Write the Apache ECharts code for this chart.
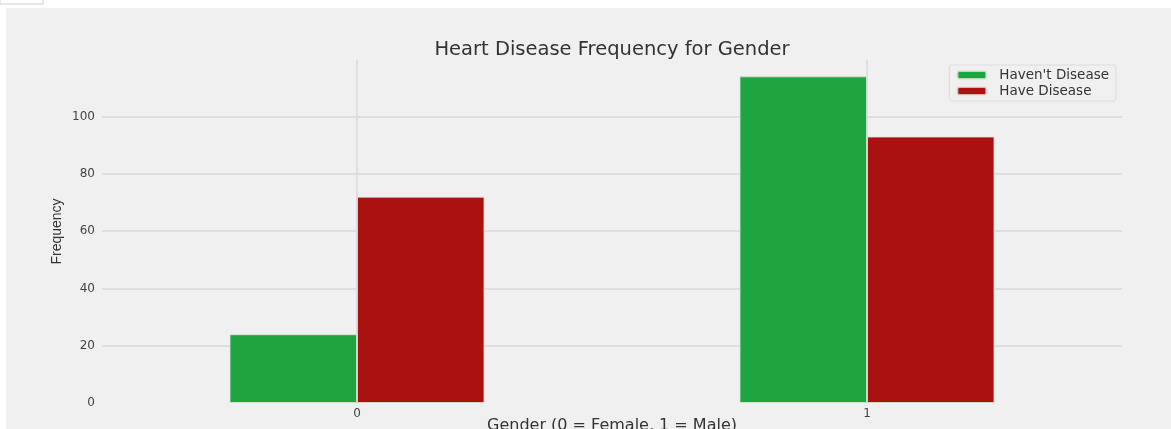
<!DOCTYPE html>
<html>
<head>
<meta charset="utf-8">
<script src="https://cdn.jsdelivr.net/npm/echarts@6/dist/echarts.min.js"></script>
<style>
  html, body { margin: 0; padding: 0; background: #fff; }
  #main { width: 1171px; height: 429px; }
</style>
</head>
<body>
<div id="main"></div>
<script>
// data
var genders = ['0', '1'];
var haventDisease = [24, 114];
var haveDisease = [72, 93];
var seriesNames = ["Haven't Disease", 'Have Disease'];

var chart = echarts.init(document.getElementById('main'));
var gridColor = '#d9d9d9';
var font = 'DejaVu Sans, Liberation Sans, sans-serif';

var option = {
  backgroundColor: '#ffffff',
  textStyle: { fontFamily: font },
  graphic: [
    { type: 'rect', shape: { x: 6, y: 8, width: 1165, height: 421 }, style: { fill: '#f0f0f0' }, z: -10 },
    { type: 'rect', shape: { x: 0, y: -2, width: 43, height: 6 }, style: { fill: '#fff', stroke: '#d0d0d0', lineWidth: 1 }, z: -10 }
  ],
  title: {
    text: 'Heart Disease Frequency for Gender',
    left: 612,
    textAlign: 'center',
    top: 40,
    padding: 0,
    textStyle: { fontSize: 19.5, fontWeight: 'normal', color: '#333', fontFamily: font }
  },
  color: ['#1fa53f', '#aa1212'],
  legend: {
    orient: 'vertical',
    right: 55,
    top: 65,
    padding: [3, 7, 3, 7],
    itemWidth: 29,
    itemHeight: 8,
    itemGap: 2,
    borderColor: '#dcdcdc',
    borderWidth: 1,
    borderRadius: 3,
    backgroundColor: '#f0f0f0',
    textStyle: { fontSize: 13.5, color: '#333', padding: [0, 0, 0, 8], fontFamily: font },
    data: seriesNames
  },
  grid: { left: 102, right: 49, top: 60, bottom: 26, outerBoundsMode: 'none' },
  xAxis: [
    {
      type: 'category',
      data: genders,
      axisLine: { show: false },
      axisTick: { show: false },
      splitLine: { show: false },
      axisLabel: { fontSize: 12, color: '#444', margin: 5, fontFamily: font },
      name: 'Gender (0 = Female, 1 = Male)',
      nameLocation: 'middle',
      nameMoveOverlap: false,
      nameGap: 15,
      nameTextStyle: { fontSize: 16, color: '#333', fontFamily: font }
    },
    {
      // hidden axis only used to draw vertical grid lines at category centres
      type: 'category',
      position: 'bottom',
      boundaryGap: false,
      data: ['', 'a', '', 'b', ''],
      axisLine: { show: false },
      axisTick: { show: false },
      axisLabel: { show: false },
      splitLine: {
        show: true,
        interval: function (idx) { return idx === 1 || idx === 3; },
        lineStyle: { color: gridColor, width: 1.5 }
      }
    }
  ],
  yAxis: {
    type: 'value',
    min: 0,
    max: 119.7,
    interval: 20,
    axisLine: { show: false },
    axisTick: { show: false },
    axisLabel: {
      fontSize: 12,
      color: '#444',
      margin: 7,
      fontFamily: font,
      formatter: function (v) { return v % 20 === 0 ? String(v) : ''; }
    },
    splitLine: {
      lineStyle: {
        color: ['rgba(0,0,0,0)', gridColor, gridColor, gridColor, gridColor, gridColor, 'rgba(0,0,0,0)'],
        width: 1.5
      }
    },
    name: 'Frequency',
    nameLocation: 'middle',
    nameMoveOverlap: false,
    nameRotate: 90,
    nameGap: 38,
    nameTextStyle: { fontSize: 14, color: '#333', fontFamily: 'Liberation Sans Narrow, Liberation Sans, sans-serif' }
  },
  series: [
    {
      name: seriesNames[0],
      type: 'bar',
      data: haventDisease,
      barWidth: '25%',
      barGap: '0%',
      itemStyle: { borderColor: 'rgba(225,225,225,0.8)', borderWidth: 1 }
    },
    {
      name: seriesNames[1],
      type: 'bar',
      data: haveDisease,
      barWidth: '25%',
      barGap: '0%',
      itemStyle: { borderColor: 'rgba(225,225,225,0.8)', borderWidth: 1 }
    }
  ]
};

chart.setOption(option);
</script>
</body>
</html>
